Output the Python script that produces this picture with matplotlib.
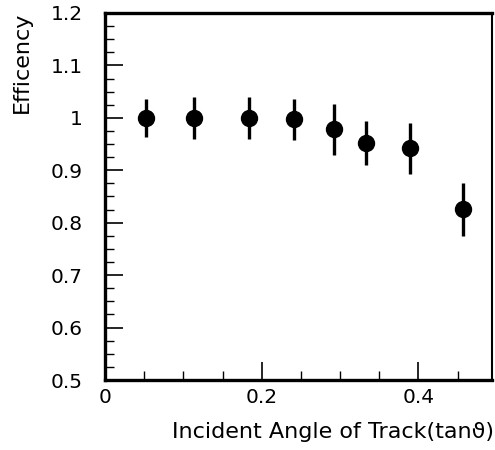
import matplotlib
matplotlib.use('Agg')

import matplotlib.pyplot as plt
from matplotlib.ticker import MultipleLocator

# data
angle = [0.052, 0.113, 0.184, 0.2415, 0.2917, 0.333, 0.3887, 0.4566]
eff = [1.000, 1.000, 1.000, 0.9975, 0.978, 0.9525, 0.9423, 0.8264]
err_up = [0.036, 0.040, 0.040, 0.039, 0.049, 0.042, 0.048, 0.050]
err_down = [0.037, 0.040, 0.041, 0.040, 0.048, 0.042, 0.049, 0.051]

plt.rcParams['font.family'] = ['DejaVu Sans']

fig = plt.figure(figsize=(4.95, 4.5), dpi=100)
ax = fig.add_axes([105 / 495, 70 / 450, 387 / 495, 367 / 450])

ax.errorbar(angle, eff, yerr=[err_down, err_up], fmt='o', color='black',
            markersize=11.5, elinewidth=2.4, capsize=0)

ax.set_xlim(0, 0.494)
ax.set_ylim(0.5, 1.2)

ax.xaxis.set_major_locator(MultipleLocator(0.2))
ax.xaxis.set_minor_locator(MultipleLocator(0.05))
ax.yaxis.set_major_locator(MultipleLocator(0.1))
ax.yaxis.set_minor_locator(MultipleLocator(0.025))
ax.xaxis.set_major_formatter(plt.FuncFormatter(lambda v, p: '%g' % round(v, 2)))
ax.yaxis.set_major_formatter(plt.FuncFormatter(lambda v, p: '%g' % round(v, 2)))

ax.tick_params(which='major', direction='in', length=13, width=1.2,
               labelsize=14.5, top=False, right=False)
ax.tick_params(which='minor', direction='in', length=6.5, width=1.0,
               top=False, right=False)
ax.tick_params(axis='y', which='major', pad=16)
ax.tick_params(axis='x', which='major', pad=6)

for side in ['left', 'bottom', 'top']:
    ax.spines[side].set_linewidth(2.4)
ax.spines['right'].set_linewidth(1.5)

fig.text(494 / 495, 1 - 432 / 450, 'Incident Angle of Track(tan\u03d1)',
         ha='right', va='center', fontsize=16)
fig.text(22 / 495, 1 - 12 / 450, 'Efficency', ha='center', va='top',
         rotation=90, fontsize=16)

fig.savefig('out.png', dpi=100)
